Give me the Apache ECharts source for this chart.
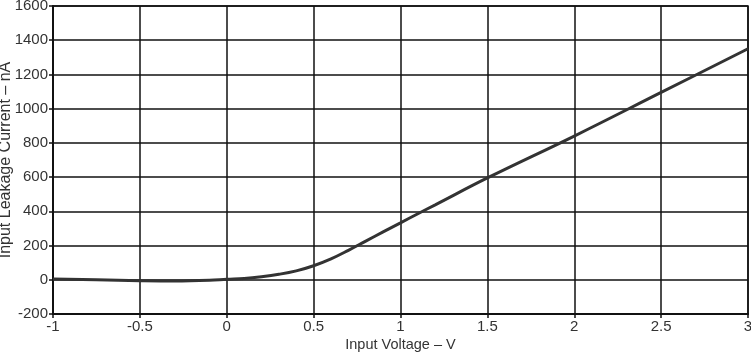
<!DOCTYPE html>
<html><head><meta charset="utf-8">
<script src="https://cdn.jsdelivr.net/npm/echarts@6/dist/echarts.min.js"></script>
<style>html,body{margin:0;padding:0;background:#fff}#c{width:751px;height:353px}</style>
</head><body><div id="c"></div>
<script>
const voltage = [-1, -0.75, -0.5, -0.3, -0.1, 0, 0.1, 0.2, 0.3, 0.4, 0.5, 0.6, 0.7, 0.8, 0.9, 1.0, 1.1, 1.2, 1.5, 2.0, 2.5, 3.0];
const leakage = [5, 0, -5, -7, -3, 3, 8, 18, 32, 52, 82, 122, 172, 226, 280, 333, 386, 438, 595, 840, 1095, 1350];
const xTitle = 'Input Voltage – V';
const yTitle = 'Input Leakage Current – nA';

const chart = echarts.init(document.getElementById('c'), null, {renderer: 'canvas'});
const font = 'Liberation Sans, Arial, sans-serif';
chart.setOption({
  animation: false,
  grid: {left: 53, right: 3, top: 6, bottom: 39, show: true, borderColor: '#111', borderWidth: 1.5,
         containLabel: false, outerBoundsMode: 'none'},
  xAxis: {
    type: 'value', min: -1, max: 3, interval: 0.5,
    name: xTitle, nameLocation: 'middle', nameGap: 23, nameMoveOverlap: false,
    nameTextStyle: {fontFamily: font, fontSize: 14.5, color: '#333'},
    axisLine: {show: true, onZero: false, lineStyle: {color: '#111', width: 2}},
    axisTick: {show: true, length: 4, lineStyle: {color: '#111', width: 1.5}},
    axisLabel: {fontFamily: font, fontSize: 15, color: '#333', margin: 5,
                formatter: v => String(v)},
    splitLine: {show: true, lineStyle: {color: '#111', width: 1.5}}
  },
  yAxis: {
    type: 'value', min: -200, max: 1600, interval: 200,
    name: yTitle, nameLocation: 'middle', nameGap: 39, nameRotate: 90, nameMoveOverlap: false,
    nameTextStyle: {fontFamily: font, fontSize: 16, color: '#333'},
    axisLine: {show: true, onZero: false, lineStyle: {color: '#111', width: 2}},
    axisTick: {show: true, length: 4, lineStyle: {color: '#111', width: 1.5}},
    axisLabel: {fontFamily: font, fontSize: 15, color: '#333', margin: 5,
                formatter: v => String(v)},
    splitLine: {show: true, lineStyle: {color: '#111', width: 1.5}}
  },
  series: [{
    type: 'line', smooth: 0.4, showSymbol: false,
    data: voltage.map((v, i) => [v, leakage[i]]),
    lineStyle: {color: '#333', width: 3}
  }]
});
</script></body></html>
